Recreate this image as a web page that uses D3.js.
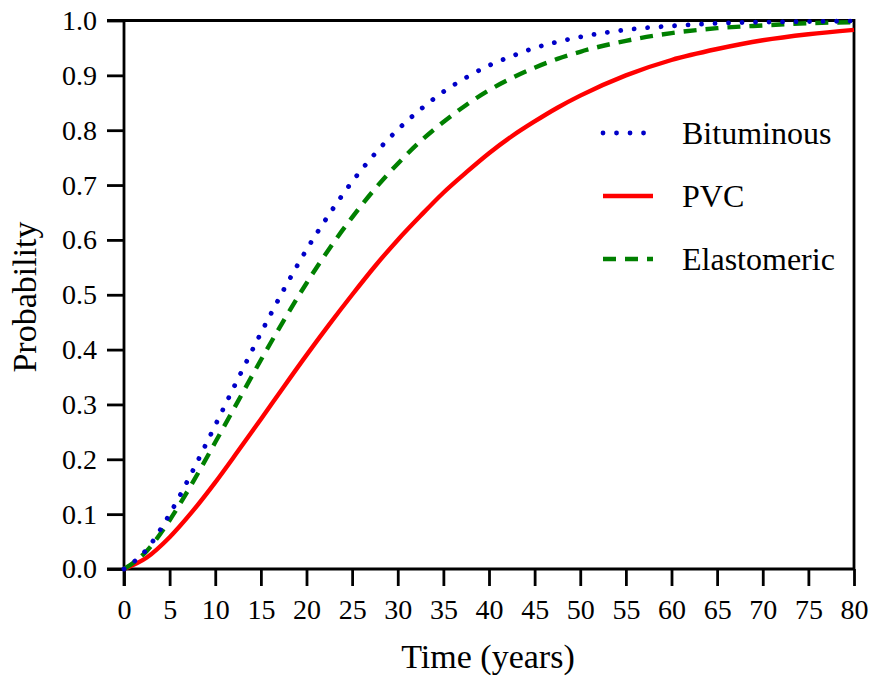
<!DOCTYPE html>
<html>
<head>
<meta charset="utf-8">
<script src="https://cdn.jsdelivr.net/npm/d3@7"></script>
<style>
  body { margin: 0; background: #fff; }
  svg text { font-family: "Liberation Serif", "Times New Roman", serif; fill: #000; }
</style>
</head>
<body>
<div id="chart"></div>
<script>
const svgWidth = 872;
const svgHeight = 682;

// time (years) and probability of each roof type
const years = [0, 2.5, 5, 7.5, 10, 12.5, 15, 17.5, 20, 22.5, 25, 27.5, 30, 32.5, 35, 37.5, 40,
  42.5, 45, 47.5, 50, 55, 60, 65, 70, 75, 80];
const bituminous = [0, 0.036, 0.100, 0.178, 0.262, 0.347, 0.430, 0.509, 0.582, 0.647, 0.706,
  0.757, 0.801, 0.838, 0.870, 0.896, 0.918, 0.935, 0.950, 0.961, 0.970, 0.983, 0.990, 0.995,
  0.997, 0.998, 0.999];
const pvc = [0, 0.021, 0.058, 0.105, 0.158, 0.215, 0.273, 0.332, 0.390, 0.446, 0.500, 0.552,
  0.600, 0.644, 0.686, 0.723, 0.758, 0.789, 0.816, 0.841, 0.863, 0.900, 0.928, 0.948, 0.964,
  0.975, 0.983];
const elastomeric = [0, 0.033, 0.089, 0.157, 0.231, 0.306, 0.381, 0.453, 0.521, 0.584, 0.641,
  0.693, 0.739, 0.780, 0.815, 0.846, 0.873, 0.895, 0.914, 0.930, 0.943, 0.963, 0.977, 0.986,
  0.991, 0.995, 0.997];

const xTicks = d3.range(0, 81, 5);
const yTicks = d3.range(0, 11).map(i => i / 10);

const serif = "'Liberation Serif', 'Times New Roman', serif";
const margin = { left: 124, right: 18, top: 20.5, bottom: 113 };
const w = svgWidth - margin.left - margin.right;
const h = svgHeight - margin.top - margin.bottom;

var svg = d3.select("#chart")
  .append("svg")
  .attr("width", svgWidth)
  .attr("height", svgHeight)
  .style("font-family", serif);

var g = svg.append("g")
  .attr("transform", `translate(${margin.left},${margin.top})`);

var xScale = d3.scaleLinear().domain([0, 80]).range([0, w]);
var yScale = d3.scaleLinear().domain([0, 1]).range([h, 0]);

// frame: top and right edges
g.append("path")
  .attr("d", `M${-17},0H${w}V${h}`)
  .attr("fill", "none")
  .attr("stroke", "#000")
  .attr("stroke-width", 2.8);

var xAxis = g.append("g")
  .attr("transform", `translate(0,${h})`)
  .call(d3.axisBottom(xScale).tickValues(xTicks).tickSize(17).tickSizeOuter(0).tickPadding(13));
var yAxis = g.append("g")
  .call(d3.axisLeft(yScale).tickValues(yTicks).tickSize(17).tickSizeOuter(0).tickPadding(10)
    .tickFormat(d3.format(".1f")));

[xAxis, yAxis].forEach(a => {
  a.attr("font-family", null).attr("font-size", null);
  a.select(".domain").attr("stroke-width", 2.8);
  a.selectAll(".tick line").attr("stroke-width", 2.8);
  a.selectAll("text").style("font-size", "28px").style("font-family", serif);
});
// left domain reaches the bottom of the x=0 tick, bottom domain reaches the 0.0 tick
yAxis.select(".domain").attr("d", `M0,0V${h + 17}`);
xAxis.select(".domain").attr("d", `M${-17},0H${w}`);

// axis titles
svg.append("text")
  .attr("x", margin.left + w / 2 - 1)
  .attr("y", 668)
  .attr("text-anchor", "middle")
  .style("font-size", "34px")
  .text("Time (years)");
svg.append("text")
  .attr("transform", "translate(36,297) rotate(-90)")
  .attr("text-anchor", "middle")
  .style("font-size", "34px")
  .text("Probability");

const series = [
  { name: "Bituminous", values: bituminous, color: "#0000c8", dash: "0.01,13.5", cap: "round" },
  { name: "PVC", values: pvc, color: "#ff0000", dash: null, cap: "butt" },
  { name: "Elastomeric", values: elastomeric, color: "#008000", dash: "13,9", cap: "butt" }
];

var line = d3.line()
  .x((d, i) => xScale(years[i]))
  .y(d => yScale(d))
  .curve(d3.curveMonotoneX);

var plot = g.append("g");
// draw red first so dotted and dashed sit on top near the origin
[series[1], series[2], series[0]].forEach(s => {
  plot.append("path")
    .datum(s.values)
    .attr("d", line)
    .attr("fill", "none")
    .attr("stroke", s.color)
    .attr("stroke-width", s.name === "Bituminous" ? 4.8 : 4.4)
    .attr("stroke-linecap", s.cap)
    .attr("stroke-dasharray", s.dash);
});

// legend
const legendY = [133, 196, 259];
var legend = svg.append("g");
series.forEach((s, i) => {
  legend.append("line")
    .attr("x1", 603).attr("x2", 653)
    .attr("y1", legendY[i]).attr("y2", legendY[i])
    .attr("stroke", s.color)
    .attr("stroke-width", s.name === "Bituminous" ? 4.8 : 4.4)
    .attr("stroke-linecap", s.cap)
    .attr("stroke-dasharray", s.dash);
  legend.append("text")
    .attr("x", 682)
    .attr("y", legendY[i] + 11)
    .style("font-size", "32px")
    .text(s.name);
});
</script>
</body>
</html>
